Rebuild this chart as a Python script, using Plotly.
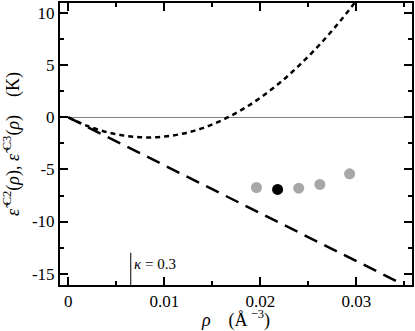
import plotly.graph_objects as go

# --- data ---
rho_c3 = [0, 0.002, 0.004, 0.006, 0.008, 0.010, 0.012, 0.014, 0.016, 0.018,
          0.020, 0.022, 0.024, 0.026, 0.028, 0.030]
eps_c3 = [0, -0.82, -1.41, -1.77, -1.92, -1.84, -1.54, -1.02, -0.27, 0.70,
          1.90, 3.31, 4.96, 6.82, 8.91, 11.22]

rho_c2 = [0, 0.035]
eps_c2 = [0, -16.1]

rho_gray = [0.0196, 0.0240, 0.0262, 0.0293]
eps_gray = [-6.73, -6.80, -6.44, -5.42]
rho_black = [0.0218]
eps_black = [-6.92]

zero_rho = [0, 0.036]
zero_eps = [0, 0]

kappa_rho = 0.0065
kappa_top = -13.0
kappa_label = "<i>κ</i> = 0.3"

x_tickvals = [0, 0.01, 0.02, 0.03]
x_ticktext = ["0", "0.01", "0.02", "0.03"]
y_tickvals = [-15, -10, -5, 0, 5, 10]
y_ticktext = ["-15", "-10", "-5", "0", "5", "10"]

x_range = [-0.00087, 0.0358]
y_range = [-16.1, 11.0]

FONT = "Liberation Serif"

fig = go.Figure()
fig.add_trace(go.Scatter(x=zero_rho, y=zero_eps, mode="lines",
                         line=dict(color="#808080", width=1), hoverinfo="skip"))
fig.add_trace(go.Scatter(x=rho_c2, y=eps_c2, mode="lines",
                         line=dict(color="black", width=2.5, dash="14px,8px")))
fig.add_trace(go.Scatter(x=rho_c3, y=eps_c3, mode="lines", line_shape="spline",
                         line=dict(color="black", width=2.5, dash="5px,4px")))
fig.add_trace(go.Scatter(x=rho_gray, y=eps_gray, mode="markers",
                         marker=dict(color="#a8a8a8", size=11)))
fig.add_trace(go.Scatter(x=rho_black, y=eps_black, mode="markers",
                         marker=dict(color="black", size=11)))

fig.add_shape(type="line", xref="x", yref="y", x0=kappa_rho, x1=kappa_rho,
              y0=kappa_top, y1=y_range[0], line=dict(color="black", width=1))
fig.add_annotation(x=kappa_rho, y=kappa_top, xref="x", yref="y",
                   text=kappa_label, showarrow=False, xanchor="left", yanchor="top",
                   xshift=1, yshift=-1,
                   font=dict(family=FONT, size=15, color="black"))

axis_common = dict(showgrid=False, zeroline=False, showline=True, linecolor="black",
                   linewidth=2, mirror="ticks", ticks="inside", ticklen=8,
                   tickwidth=2, tickcolor="black", automargin=False,
                   tickfont=dict(family=FONT, size=17, color="black"))

fig.update_xaxes(range=x_range, tickvals=x_tickvals, ticktext=x_ticktext,
                 minor=dict(ticks="inside", ticklen=4, tickwidth=2, dtick=0.005,
                            tick0=0, tickcolor="black"),
                 title=dict(text="<i>ρ</i>    (Å<sup> −3</sup>)",
                            font=dict(family=FONT, size=18, color="black"),
                            standoff=2),
                 **axis_common)
fig.update_yaxes(range=y_range, tickvals=y_tickvals, ticktext=y_ticktext,
                 minor=dict(ticks="inside", ticklen=4, tickwidth=2, dtick=2.5,
                            tick0=0, tickcolor="black"),
                 title=dict(text="<i>ε̃</i>\u2009<sup>C2</sup>(<i>ρ</i>), <i>ε̃</i>\u2009<sup>C3</sup>(<i>ρ</i>)    (K)",
                            font=dict(family=FONT, size=18, color="black"),
                            standoff=8),
                 **axis_common)

fig.update_layout(width=415, height=331, showlegend=False,
                  plot_bgcolor="white", paper_bgcolor="white",
                  margin=dict(l=60, r=3, t=3, b=46))

fig.write_html("out.html", config={"displayModeBar": False},
               post_script="document.body.style.margin='0';document.body.style.padding='0';")
